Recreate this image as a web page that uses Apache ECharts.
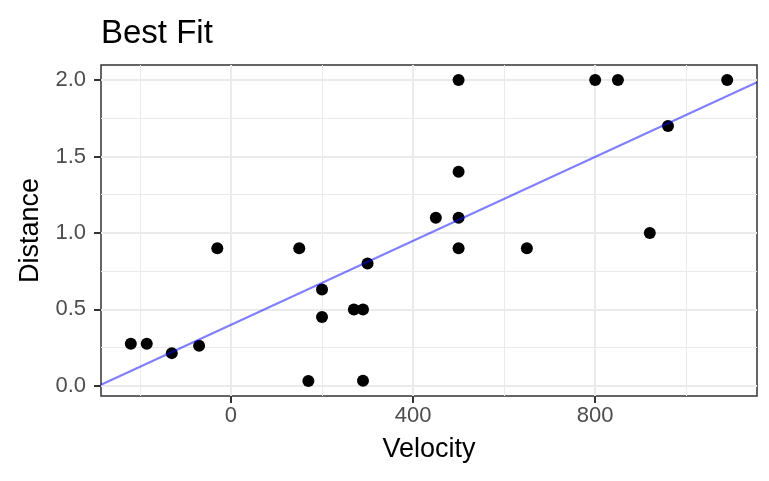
<!DOCTYPE html>
<html>
<head>
<meta charset="utf-8">
<script src="https://cdn.jsdelivr.net/npm/echarts@6/dist/echarts.min.js"></script>
<style>
  html, body { margin: 0; padding: 0; background: #fff; }
  #chart { width: 769px; height: 481px; }
</style>
</head>
<body>
<div id="chart"></div>
<script>
// Data (Hubble 1929)
const velocity = [170, 290, -130, -70, -185, -220, 200, 290, 270, 200, 300, -30, 650, 150, 500, 920, 450, 500, 500, 960, 500, 850, 800, 1090];
const distance = [0.032, 0.034, 0.214, 0.263, 0.275, 0.275, 0.45, 0.5, 0.5, 0.63, 0.8, 0.9, 0.9, 0.9, 0.9, 1.0, 1.1, 1.1, 1.4, 1.7, 2.0, 2.0, 2.0, 2.0];

// Axis ticks and limits
const xMajorTicks = [0, 400, 800];
const xMinorTicks = [-200, 200, 600, 1000];
const yMajorTicks = [0, 0.5, 1, 1.5, 2];
const yMinorTicks = [0.25, 0.75, 1.25, 1.75];
const xLimits = [-285.5, 1155.5];
const yLimits = [-0.0664, 2.0984];

// Least squares fit: distance ~ velocity
const n = velocity.length;
const mx = velocity.reduce((a, b) => a + b, 0) / n;
const my = distance.reduce((a, b) => a + b, 0) / n;
let sxy = 0, sxx = 0;
for (let i = 0; i < n; i++) { sxy += (velocity[i] - mx) * (distance[i] - my); sxx += (velocity[i] - mx) ** 2; }
const slope = sxy / sxx;
const intercept = my - slope * mx;
const fitLine = xLimits.map(x => [x, intercept + slope * x]);

const FONT = "'Liberation Sans', Arial, Helvetica, sans-serif";
const points = velocity.map((v, i) => [v, distance[i]]);

const chart = echarts.init(document.getElementById('chart'), null, { renderer: 'canvas' });
chart.setOption({
  animation: false,
  backgroundColor: '#fff',
  textStyle: { fontFamily: FONT },
  title: {
    text: 'Best Fit', left: 96, top: 12,
    textStyle: { fontFamily: FONT, fontSize: 33, fontWeight: 'normal', color: '#000' }
  },
  grid: { left: 101, top: 65, width: 656, height: 331, show: true, borderColor: '#333', borderWidth: 1.5, backgroundColor: 'transparent', containLabel: false },
  xAxis: [
    {
      type: 'value', min: xLimits[0], max: xLimits[1], position: 'bottom',
      axisLine: { show: false, onZero: false },
      axisTick: { show: true, customValues: xMajorTicks, length: 7, lineStyle: { color: '#333', width: 2 } },
      axisLabel: { customValues: xMajorTicks, margin: 9, fontSize: 22, color: '#4d4d4d', fontFamily: FONT },
      splitLine: { show: true, lineStyle: { color: '#ebebeb', width: 2 } },
      name: 'Velocity', nameLocation: 'middle', nameGap: 40,
      nameTextStyle: { fontSize: 27, color: '#000', fontFamily: FONT }
    },
    {
      type: 'value', min: xLimits[0], max: xLimits[1], position: 'bottom',
      axisLine: { show: false, onZero: false },
      axisTick: { show: false, customValues: xMinorTicks },
      axisLabel: { show: false, customValues: xMinorTicks },
      splitLine: { show: true, lineStyle: { color: '#ebebeb', width: 1 } }
    }
  ],
  yAxis: [
    {
      type: 'value', min: yLimits[0], max: yLimits[1], position: 'left',
      axisLine: { show: false, onZero: false },
      axisTick: { show: true, customValues: yMajorTicks, length: 7, lineStyle: { color: '#333', width: 2 } },
      axisLabel: { customValues: yMajorTicks, margin: 15, fontSize: 22, color: '#4d4d4d', fontFamily: FONT, formatter: v => v.toFixed(1) },
      splitLine: { show: true, lineStyle: { color: '#ebebeb', width: 2 } },
      name: 'Distance', nameLocation: 'middle', nameGap: 49,
      nameTextStyle: { fontSize: 27, color: '#000', fontFamily: FONT }
    },
    {
      type: 'value', min: yLimits[0], max: yLimits[1], position: 'left',
      axisLine: { show: false, onZero: false },
      axisTick: { show: false, customValues: yMinorTicks },
      axisLabel: { show: false, customValues: yMinorTicks },
      splitLine: { show: true, lineStyle: { color: '#ebebeb', width: 1 } }
    }
  ],
  series: [
    {
      type: 'scatter', xAxisIndex: 0, yAxisIndex: 0, data: points,
      symbol: 'circle', symbolSize: 12, itemStyle: { color: '#000', opacity: 1 }, z: 3
    },
    {
      type: 'line', xAxisIndex: 0, yAxisIndex: 0, data: fitLine,
      showSymbol: false, symbol: 'none',
      lineStyle: { color: 'rgba(0,0,255,0.5)', width: 2 }, z: 4
    }
  ]
});
</script>
</body>
</html>
